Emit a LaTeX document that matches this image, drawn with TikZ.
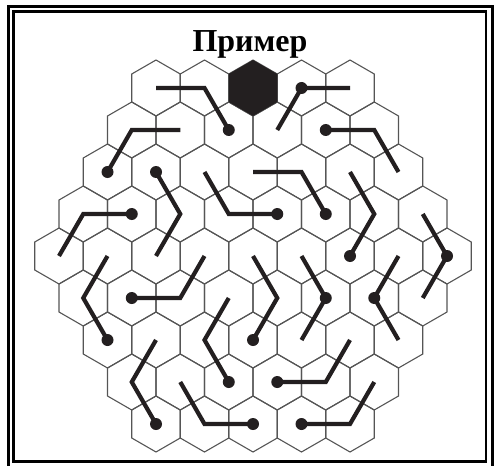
\documentclass[tikz,border=0pt]{standalone}
\usepackage{fontspec}
\setmainfont{Liberation Serif}
\usepackage{tikz}
\definecolor{gridgray}{RGB}{85,85,85}
\definecolor{inkblack}{RGB}{35,31,32}

\begin{document}
\begin{tikzpicture}[x=1pt, y=-1pt,
  cell/.style={draw=gridgray, line width=1.1pt},
  route/.style={draw=inkblack, line width=4.2pt, line join=miter},
  frameline/.style={draw=black, line width=2.8pt}]
  \useasboundingbox (0,0) rectangle (494,465);

  % double frame
  \draw[frameline] (8.5,6.5) rectangle (492.5,467.5);
  \draw[frameline] (13.5,11.5) rectangle (486,461.5);

  % title
  \node[anchor=base, font=\bfseries\fontsize{32}{36}\selectfont] (title) at (250,52) {Пример};

  % hex cells, row r and column c (c = 8 is the middle one)
  \foreach \r/\n in {0/4,1/5,2/6,3/7,4/8,5/7,6/6,7/5,8/4} {
    \foreach \j in {0,...,\n} {
      \pgfmathtruncatemacro\c{8-\n+2*\j}
      \coordinate (h\r-\c) at ({253+24.25*(\c-8)},{88+42*\r});
      \draw[cell] (h\r-\c) +(30:28) -- +(90:28) -- +(150:28) -- +(210:28)
        -- +(270:28) -- +(330:28) -- cycle;
    }
  }

  % blocked cell
  \fill[inkblack] (h0-8) +(30:28) -- +(90:28) -- +(150:28) -- +(210:28)
    -- +(270:28) -- +(330:28) -- cycle;

  % routes: three cells each, dot on the last name
  \foreach \a/\b/\e/\d in {
      h0-4/h0-6/h1-7/h1-7, h2-2/h1-3/h1-5/h2-2, h2-4/h3-5/h4-4/h2-4,
      h2-6/h3-7/h3-9/h3-9, h2-8/h2-10/h3-11/h3-11, h1-9/h0-10/h0-12/h0-10,
      h1-11/h1-13/h2-14/h1-11, h2-12/h3-13/h4-12/h4-12, h3-3/h3-1/h4-0/h3-3,
      h3-15/h4-16/h5-15/h4-16, h4-2/h5-1/h6-2/h6-2, h5-3/h5-5/h4-6/h5-3,
      h4-8/h5-9/h6-8/h6-8, h4-10/h5-11/h6-10/h5-11, h4-14/h5-13/h6-14/h5-13,
      h5-7/h6-6/h7-7/h7-7, h6-4/h7-3/h8-4/h8-4, h7-5/h8-6/h8-8/h8-8,
      h6-12/h7-11/h7-9/h7-9, h7-13/h8-12/h8-10/h8-10} {
    \draw[route] (\a) -- (\b) -- (\e);
    \fill[inkblack] (\d) circle (6pt);
  }
\end{tikzpicture}
\end{document}
